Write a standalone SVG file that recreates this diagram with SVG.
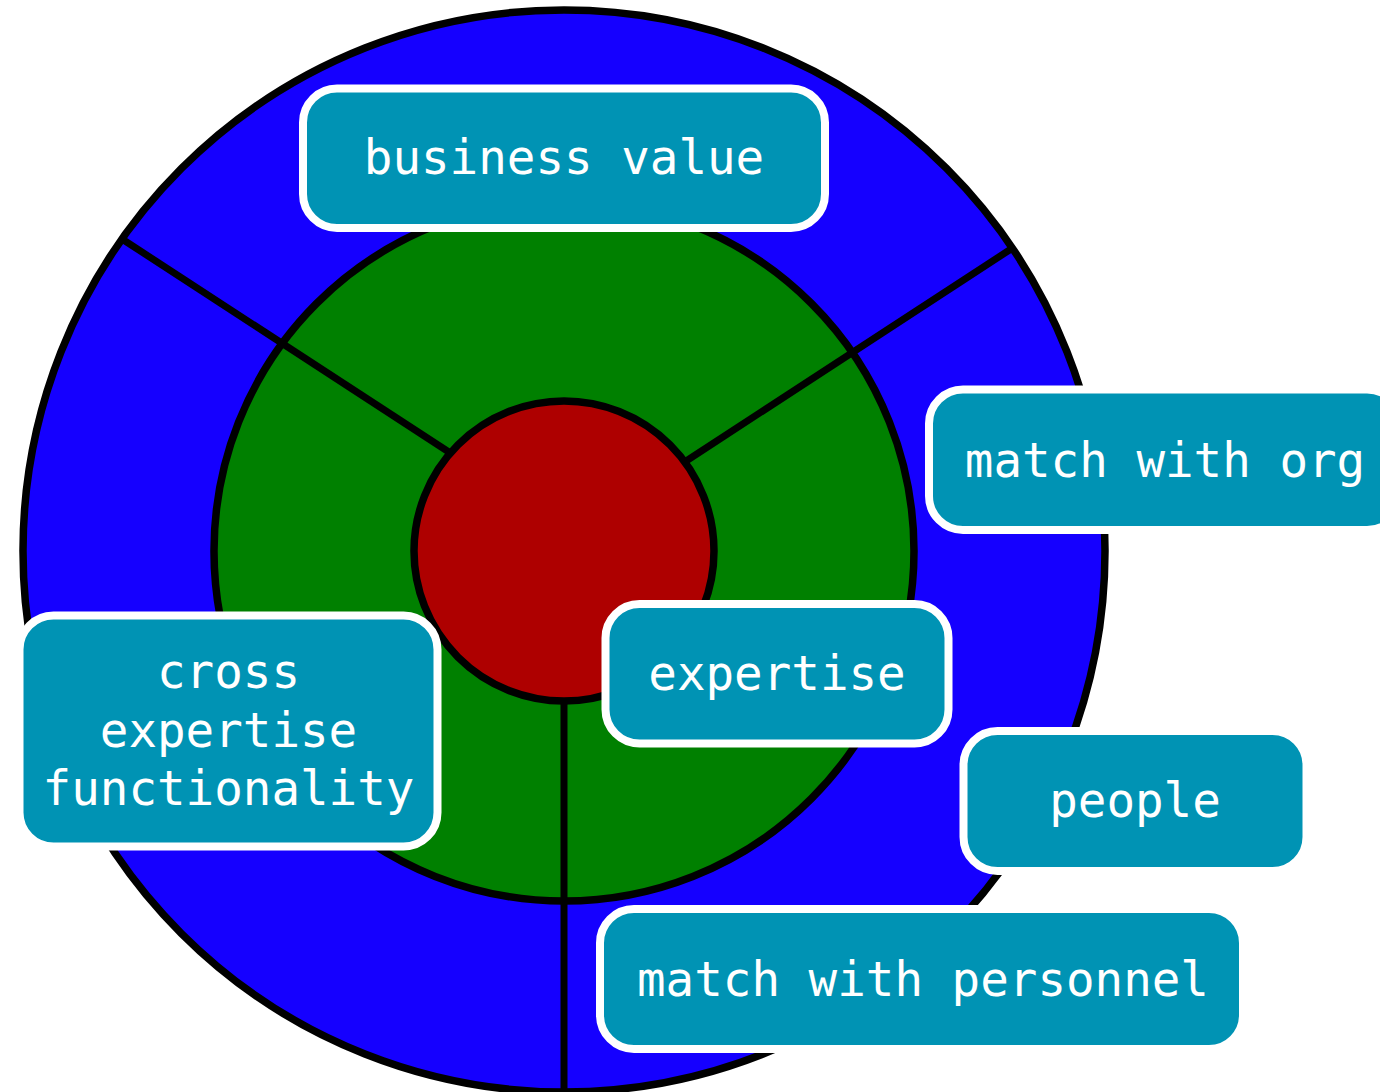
<svg xmlns="http://www.w3.org/2000/svg" width="1380" height="1092" viewBox="0 0 1380 1092">
<style>
.ring{stroke:#000;stroke-width:7.5}
.conn{stroke:#000;stroke-width:7}
.box{fill:#0093b4;stroke:#fff;stroke-width:8}
.lbl{font-family:"DejaVu Sans Mono","Liberation Mono",monospace;font-size:47.5px;fill:#fff;text-anchor:middle}
</style>
<rect width="1380" height="1092" fill="#fff"/>
<g id="outer-ring"><circle class="ring" cx="564" cy="551" r="541" fill="#1500ff"/></g>
<g id="middle-ring"><circle class="ring" cx="564" cy="551" r="350" fill="#008000"/></g>
<g id="connectors">
<line class="conn" x1="455" y1="456" x2="122" y2="239"/>
<line class="conn" x1="680" y1="465" x2="1011" y2="249"/>
<line class="conn" x1="564" y1="690" x2="564" y2="1095"/>
</g>
<g id="core"><circle class="ring" cx="564" cy="551" r="150" fill="#ae0000"/></g>
<g id="business-value">
<rect class="box" x="303" y="88.5" width="522" height="139.5" rx="34"/>
<text class="lbl" x="564" y="174">business value</text>
</g>
<g id="match-with-org">
<rect class="box" x="929" y="389.5" width="472" height="140.5" rx="34"/>
<text class="lbl" x="1165" y="477">match with org</text>
</g>
<g id="cross-expertise-functionality">
<rect class="box" x="19.5" y="615.5" width="418" height="231" rx="34"/>
<text class="lbl" x="228.5" y="688">cross</text>
<text class="lbl" x="228.5" y="747">expertise</text>
<text class="lbl" x="228.5" y="805">functionality</text>
</g>
<g id="expertise">
<rect class="box" x="605.5" y="604" width="343" height="139.5" rx="34"/>
<text class="lbl" x="777" y="690">expertise</text>
</g>
<g id="people">
<rect class="box" x="963.5" y="731" width="343" height="140" rx="34"/>
<text class="lbl" x="1135" y="817">people</text>
</g>
<g id="match-with-personnel">
<rect class="box" x="600" y="909" width="643" height="140" rx="34"/>
<text class="lbl" x="923" y="996">match with personnel</text>
</g>
</svg>
